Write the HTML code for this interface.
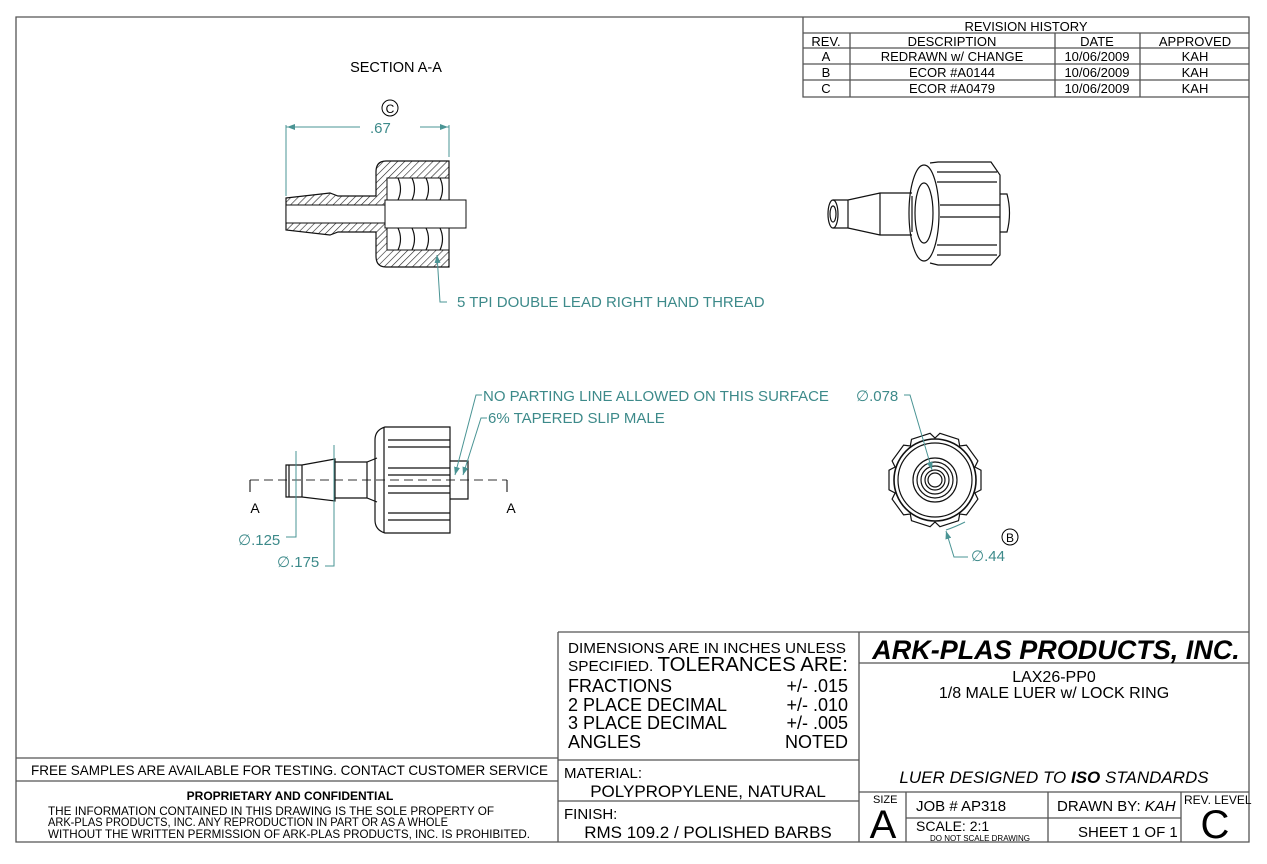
<!DOCTYPE html>
<html><head><meta charset="utf-8"><style>
html,body{margin:0;padding:0;background:#fff;}
svg{display:block;font-family:"Liberation Sans",sans-serif;}
.t{fill:#3d8a8a;font-size:15px;}
.k{fill:#000;}
.ln{stroke:#111;stroke-width:1.2;fill:none;}
.tl{stroke:#4a9494;stroke-width:1;fill:none;}
.bx{stroke:#555;stroke-width:1.3;fill:none;}
</style></head><body>
<svg width="1267" height="864" viewBox="0 0 1267 864" xmlns="http://www.w3.org/2000/svg">
<defs>
<pattern id="h" width="5" height="5" patternUnits="userSpaceOnUse" patternTransform="rotate(45)">
<rect width="5" height="5" fill="#fff"/><line x1="0" y1="0" x2="0" y2="5" stroke="#222" stroke-width="1.2"/></pattern>
<marker id="ar" markerWidth="8" markerHeight="6" refX="8" refY="3" orient="auto"><path d="M0,0 L8,3 L0,6z" fill="#4a9494"/></marker>
</defs>
<path d="M16,17 H1249 V842 H16 Z" class="bx"/>
<g class="bx"><path d="M803,17 V97 H1249 M803,33 H1249 M803,48 H1249 M803,64 H1249 M803,80 H1249 M850,33 V97 M1055,33 V97 M1140,33 V97"/></g>
<g font-size="13" text-anchor="middle" class="k">
<text x="1026" y="31">REVISION HISTORY</text>
<text x="826" y="46">REV.</text><text x="952" y="46">DESCRIPTION</text><text x="1097" y="46">DATE</text><text x="1195" y="46">APPROVED</text>
<text x="826" y="61">A</text><text x="952" y="61">REDRAWN w/ CHANGE</text><text x="1097" y="61">10/06/2009</text><text x="1195" y="61">KAH</text>
<text x="826" y="77">B</text><text x="952" y="77">ECOR #A0144</text><text x="1097" y="77">10/06/2009</text><text x="1195" y="77">KAH</text>
<text x="826" y="93">C</text><text x="952" y="93">ECOR #A0479</text><text x="1097" y="93">10/06/2009</text><text x="1195" y="93">KAH</text>
</g>

<text x="396" y="72" font-size="14.5" text-anchor="middle">SECTION A-A</text>
<circle cx="390" cy="108" r="8" fill="none" stroke="#000"/>
<text x="390" y="113" font-size="12" text-anchor="middle">C</text>
<path class="tl" d="M286,127 H360 M420,127 H449 M286,125 V196 M449,125 V157" />
<path class="tl" d="M300,127 H287" marker-end="url(#ar)"/><path class="tl" d="M436,127 H448" marker-end="url(#ar)"/>
<text class="t" x="370" y="133">.67</text>
<path d="M286,198 L330,193 L338,196 L376,196 L376,172 Q376,161 386,161 L449,161 L449,267 L386,267 Q376,267 376,256 L376,232 L338,232 L330,235 L286,230 Z" fill="url(#h)" stroke="#111" stroke-width="1.2"/>
<rect x="286" y="205" width="100" height="18" fill="#fff" stroke="#111"/>
<rect x="385" y="200" width="81" height="28" fill="#fff" stroke="#111"/>
<path d="M387,178 H449 V200 H387 Z M387,228 H449 V250 H387 Z" fill="#fff" stroke="#111"/>
<g class="ln" stroke-width="1"><path d="M398,178 q5,11 0,22 M412,178 q5,11 0,22 M426,178 q5,11 0,22 M440,178 q5,11 0,22 M398,228 q5,11 0,22 M412,228 q5,11 0,22 M426,228 q5,11 0,22 M440,228 q5,11 0,22"/></g>
<path class="tl" d="M447,302 H440 L437,255" marker-end="url(#ar)"/>
<text class="t" x="457" y="307">5 TPI DOUBLE LEAD RIGHT HAND THREAD</text>

<g class="ln">
<path d="M833,200 H848 L880,193 H912 M833,228 H848 L880,235 H912 M848,200 V228 M880,193 V235 M912,196 V232"/>
<ellipse cx="833" cy="214" rx="5" ry="14"/><ellipse cx="833" cy="214" rx="3" ry="8"/>
<ellipse cx="924" cy="213" rx="15" ry="48"/><ellipse cx="924" cy="213" rx="9" ry="30"/>
<path d="M930,163 L938,162 H991 L1000,175 V255 L991,265 H938 L930,263"/>
<path d="M937,172 H997 M937,182 H997 M940,205 H1000 M940,217 H1000 M937,245 H997 M937,255 H997"/>
<path d="M1000,194 H1007 Q1012,213 1007,232 H1000"/>
</g>

<path d="M250,480 H507" stroke="#333" stroke-dasharray="9,5" fill="none"/>
<path d="M250,480 V492 M507,480 V492" stroke="#000"/>
<text x="255" y="513" font-size="14" text-anchor="middle">A</text><text x="511" y="513" font-size="14" text-anchor="middle">A</text>
<g class="ln">
<path d="M286,465 H302 L335,459 V501 L302,497 H286 Z M289,465 V497 M302,465 V497"/>
<path d="M335,462 H367 L377,458 M335,498 H367 L377,502 M367,462 V498"/>
<path d="M385,427 H450 V533 H385 Q375,530 375,520 V440 Q375,430 385,427 Z"/>
<path d="M384,427 V533 M388,440 H450 M388,447 H450 M388,468 H450 M388,475 H450 M388,486 H450 M388,493 H450 M388,513 H450 M388,520 H450"/>
<path d="M450,461 H468 V499 H450"/>
</g>
<path class="tl" d="M296,451 V537 H286 M334,445 V566 H325"/>
<text class="t" x="238" y="545">∅.125</text><text class="t" x="277" y="567">∅.175</text>
<path class="tl" d="M482,395 H476 L455,475" marker-end="url(#ar)"/>
<path class="tl" d="M487,418 H481 L463,475" marker-end="url(#ar)"/>
<text class="t" x="483" y="401">NO PARTING LINE ALLOWED ON THIS SURFACE</text>
<text class="t" x="488" y="423">6% TAPERED SLIP MALE</text>

<path id="scal" class="ln" d=""/>
<g class="ln" stroke-width="1"><circle cx="935" cy="480" r="41" stroke-width="1.6"/><circle cx="935" cy="480" r="37"/><circle cx="935" cy="480" r="22"/><circle cx="935" cy="480" r="18"/><circle cx="935" cy="480" r="14"/><circle cx="935" cy="480" r="10"/><circle cx="935" cy="480" r="7"/></g>
<text class="t" x="856" y="401">∅.078</text>
<path class="tl" d="M904,395 H910 L932,470" marker-end="url(#ar)"/>
<path class="tl" d="M968,557 H954 L946,531" marker-end="url(#ar)"/>
<path class="tl" d="M946,530 Q955,527 965,522"/>
<text class="t" x="971" y="561">∅.44</text>
<circle cx="1010" cy="537" r="8" fill="none" stroke="#000"/><text x="1010" y="542" font-size="12" text-anchor="middle">B</text>

<g class="bx">
<path d="M558,632 H1249 M558,632 V842 M859,632 V842 M558,760 H859 M558,801 H859 M16,758 H558 M16,781 H558 M859,663 H1249 M859,792 H1249 M906,792 V842 M1048,792 V842 M1181,792 V842 M906,818 H1181"/>
</g>
<g class="k">
<text x="568" y="653" font-size="15" textLength="278" lengthAdjust="spacingAndGlyphs">DIMENSIONS ARE IN INCHES UNLESS</text>
<text x="568" y="671" font-size="15" textLength="280" lengthAdjust="spacingAndGlyphs">SPECIFIED. <tspan font-size="20">TOLERANCES ARE:</tspan></text>
<g font-size="18"><text x="568" y="692">FRACTIONS</text><text x="568" y="711">2 PLACE DECIMAL</text><text x="568" y="729">3 PLACE DECIMAL</text><text x="568" y="748">ANGLES</text>
<g text-anchor="end"><text x="848" y="692">+/- .015</text><text x="848" y="711">+/- .010</text><text x="848" y="729">+/- .005</text><text x="848" y="748">NOTED</text></g></g>
<text x="564" y="778" font-size="15">MATERIAL:</text>
<text x="708" y="797" font-size="17" text-anchor="middle">POLYPROPYLENE, NATURAL</text>
<text x="564" y="819" font-size="15">FINISH:</text>
<text x="708" y="838" font-size="17" text-anchor="middle">RMS 109.2 / POLISHED BARBS</text>
<text x="31" y="775" font-size="14" textLength="517" lengthAdjust="spacingAndGlyphs">FREE SAMPLES ARE AVAILABLE FOR TESTING.  CONTACT CUSTOMER SERVICE</text>
<text x="290" y="800" font-size="12" font-weight="bold" text-anchor="middle">PROPRIETARY AND CONFIDENTIAL</text>
<text x="48" y="815" font-size="12" textLength="446" lengthAdjust="spacingAndGlyphs">THE INFORMATION CONTAINED IN THIS DRAWING IS THE SOLE PROPERTY OF</text>
<text x="48" y="826" font-size="12" textLength="400" lengthAdjust="spacingAndGlyphs">ARK-PLAS PRODUCTS, INC. ANY REPRODUCTION IN PART OR AS A WHOLE</text>
<text x="48" y="838" font-size="12" textLength="482" lengthAdjust="spacingAndGlyphs">WITHOUT THE WRITTEN PERMISSION OF ARK-PLAS PRODUCTS, INC. IS PROHIBITED.</text>
<text x="1056" y="659" font-size="27" font-weight="bold" font-style="italic" text-anchor="middle">ARK-PLAS PRODUCTS, INC.</text>
<text x="1054" y="682" font-size="16" text-anchor="middle">LAX26-PP0</text>
<text x="1054" y="698" font-size="16" text-anchor="middle">1/8 MALE LUER w/ LOCK RING</text>
<text x="1054" y="783" font-size="17" font-style="italic" text-anchor="middle">LUER DESIGNED TO <tspan font-weight="bold">ISO</tspan> STANDARDS</text>
<text x="873" y="803" font-size="11">SIZE</text>
<text x="883" y="838" font-size="40" text-anchor="middle">A</text>
<text x="916" y="811" font-size="15">JOB #  AP318</text>
<text x="916" y="831" font-size="14">SCALE:     2:1</text>
<text x="930" y="841" font-size="8">DO NOT SCALE DRAWING</text>
<text x="1057" y="811" font-size="15">DRAWN BY:  <tspan font-style="italic">KAH</tspan></text>
<text x="1078" y="837" font-size="15">SHEET  1 OF 1</text>
<text x="1184" y="804" font-size="12">REV. LEVEL</text>
<text x="1215" y="838" font-size="40" text-anchor="middle">C</text>
</g>
</svg>
<script>
(function(){var cx=935,cy=480,d="",n=10;for(var i=0;i<n;i++){var a=i*36;var pts=[[a-12,47],[a+12,47],[a+18,42]];pts.forEach(function(p){var r=p[0]*Math.PI/180;var x=(cx+p[1]*Math.cos(r)).toFixed(1),y=(cy+p[1]*Math.sin(r)).toFixed(1);d+=(d?"L":"M")+x+","+y;});}
document.getElementById("scal").setAttribute("d",d+"Z");})();
</script>
</body></html>
